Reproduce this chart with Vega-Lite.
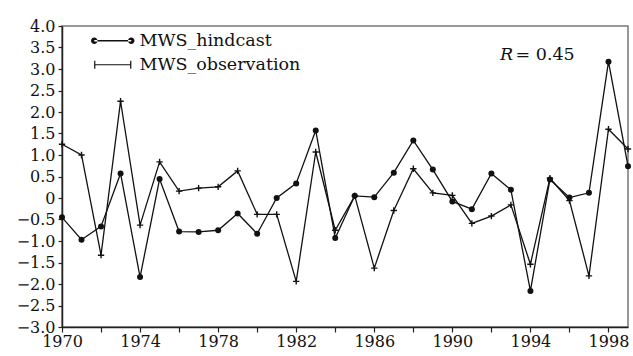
{
  "$schema": "https://vega.github.io/schema/vega-lite/v6.json",
  "width": 566,
  "height": 301,
  "autosize": {"type": "none"},
  "padding": {"left": 62, "top": 26, "right": 5, "bottom": 29},
  "background": "white",
  "config": {
    "view": {"stroke": "#777", "strokeWidth": 1.5},
    "font": "DejaVu Serif",
    "axis": {"grid": false, "title": null, "domainColor": "#222", "domainWidth": 1.5, "tickColor": "#222", "tickWidth": 1.2, "labelColor": "#111", "labelFont": "DejaVu Serif", "labelFontSize": 16}
  },
  "datasets": {
    "mws": [
      {"year": 1970, "series": "MWS_hindcast", "value": -0.45},
      {"year": 1971, "series": "MWS_hindcast", "value": -0.97},
      {"year": 1972, "series": "MWS_hindcast", "value": -0.66},
      {"year": 1973, "series": "MWS_hindcast", "value": 0.57},
      {"year": 1974, "series": "MWS_hindcast", "value": -1.84},
      {"year": 1975, "series": "MWS_hindcast", "value": 0.44},
      {"year": 1976, "series": "MWS_hindcast", "value": -0.78},
      {"year": 1977, "series": "MWS_hindcast", "value": -0.79},
      {"year": 1978, "series": "MWS_hindcast", "value": -0.75},
      {"year": 1979, "series": "MWS_hindcast", "value": -0.36},
      {"year": 1980, "series": "MWS_hindcast", "value": -0.83},
      {"year": 1981, "series": "MWS_hindcast", "value": 0.0},
      {"year": 1982, "series": "MWS_hindcast", "value": 0.34},
      {"year": 1983, "series": "MWS_hindcast", "value": 1.57},
      {"year": 1984, "series": "MWS_hindcast", "value": -0.93},
      {"year": 1985, "series": "MWS_hindcast", "value": 0.05},
      {"year": 1986, "series": "MWS_hindcast", "value": 0.02},
      {"year": 1987, "series": "MWS_hindcast", "value": 0.59},
      {"year": 1988, "series": "MWS_hindcast", "value": 1.34},
      {"year": 1989, "series": "MWS_hindcast", "value": 0.66},
      {"year": 1990, "series": "MWS_hindcast", "value": -0.08},
      {"year": 1991, "series": "MWS_hindcast", "value": -0.26},
      {"year": 1992, "series": "MWS_hindcast", "value": 0.57},
      {"year": 1993, "series": "MWS_hindcast", "value": 0.19},
      {"year": 1994, "series": "MWS_hindcast", "value": -2.16},
      {"year": 1995, "series": "MWS_hindcast", "value": 0.43},
      {"year": 1996, "series": "MWS_hindcast", "value": 0.01},
      {"year": 1997, "series": "MWS_hindcast", "value": 0.12},
      {"year": 1998, "series": "MWS_hindcast", "value": 3.17},
      {"year": 1999, "series": "MWS_hindcast", "value": 0.74},
      {"year": 1970, "series": "MWS_observation", "value": 1.25},
      {"year": 1971, "series": "MWS_observation", "value": 1.0},
      {"year": 1972, "series": "MWS_observation", "value": -1.33},
      {"year": 1973, "series": "MWS_observation", "value": 2.25},
      {"year": 1974, "series": "MWS_observation", "value": -0.63},
      {"year": 1975, "series": "MWS_observation", "value": 0.84},
      {"year": 1976, "series": "MWS_observation", "value": 0.16},
      {"year": 1977, "series": "MWS_observation", "value": 0.23},
      {"year": 1978, "series": "MWS_observation", "value": 0.26},
      {"year": 1979, "series": "MWS_observation", "value": 0.63},
      {"year": 1980, "series": "MWS_observation", "value": -0.38},
      {"year": 1981, "series": "MWS_observation", "value": -0.38},
      {"year": 1982, "series": "MWS_observation", "value": -1.94},
      {"year": 1983, "series": "MWS_observation", "value": 1.07},
      {"year": 1984, "series": "MWS_observation", "value": -0.75},
      {"year": 1985, "series": "MWS_observation", "value": 0.05},
      {"year": 1986, "series": "MWS_observation", "value": -1.63},
      {"year": 1987, "series": "MWS_observation", "value": -0.29},
      {"year": 1988, "series": "MWS_observation", "value": 0.68},
      {"year": 1989, "series": "MWS_observation", "value": 0.12},
      {"year": 1990, "series": "MWS_observation", "value": 0.06},
      {"year": 1991, "series": "MWS_observation", "value": -0.59},
      {"year": 1992, "series": "MWS_observation", "value": -0.42},
      {"year": 1993, "series": "MWS_observation", "value": -0.16},
      {"year": 1994, "series": "MWS_observation", "value": -1.54},
      {"year": 1995, "series": "MWS_observation", "value": 0.46},
      {"year": 1996, "series": "MWS_observation", "value": -0.06},
      {"year": 1997, "series": "MWS_observation", "value": -1.81},
      {"year": 1998, "series": "MWS_observation", "value": 1.6},
      {"year": 1999, "series": "MWS_observation", "value": 1.14}
    ],
    "note": [{"label": "R = 0.45"}]
  },
  "layer": [
    {
      "data": {"name": "mws"},
      "encoding": {
        "x": {
          "field": "year", "type": "quantitative",
          "scale": {"domain": [1970, 1999], "nice": false, "zero": false},
          "axis": {
            "values": [1970, 1972, 1974, 1976, 1978, 1980, 1982, 1984, 1986, 1988, 1990, 1992, 1994, 1996, 1998],
            "labelExpr": "(datum.value - 1970) % 4 == 0 ? format(datum.value, 'd') : ''",
            "tickSize": 5, "labelPadding": 1, "labelFlush": false, "labelOverlap": false
          }
        },
        "y": {
          "field": "value", "type": "quantitative",
          "scale": {"domain": [-3, 4], "nice": false, "zero": false},
          "axis": {
            "values": [-3, -2.5, -2, -1.5, -1, -0.5, 0, 0.5, 1, 1.5, 2, 2.5, 3, 3.5, 4],
            "labelExpr": "datum.value == 0 ? '0' : format(datum.value, '.1f')",
            "tickSize": 4, "labelPadding": 3, "labelFlush": false, "labelOverlap": false
          }
        }
      },
      "layer": [
        {
          "mark": {"type": "line", "color": "#111", "strokeWidth": 1.3},
          "encoding": {"detail": {"field": "series", "type": "nominal"}}
        },
        {
          "transform": [{"filter": "datum.series == 'MWS_hindcast'"}],
          "mark": {"type": "point", "shape": "circle", "filled": true, "color": "#111", "size": 36, "opacity": 1}
        },
        {
          "transform": [{"filter": "datum.series == 'MWS_observation'"}],
          "mark": {"type": "point", "shape": "M-1,0L1,0M0,-1L0,1", "filled": false, "color": "#111", "strokeWidth": 1.4, "size": 40, "opacity": 1}
        },
        {
          "transform": [{"filter": "datum.year > 3000"}],
          "mark": {"type": "point", "filled": true, "color": "#111", "size": 100, "opacity": 1},
          "encoding": {
            "shape": {
              "field": "series", "type": "nominal",
              "scale": {"domain": ["MWS_hindcast", "MWS_observation"], "range": ["M-3.7,-0.13L3.7,-0.13L3.7,0.13L-3.7,0.13ZM-4.35,0a0.65,0.65 0 1,0 1.3,0a0.65,0.65 0 1,0 -1.3,0ZM3.05,0a0.65,0.65 0 1,0 1.3,0a0.65,0.65 0 1,0 -1.3,0Z", "M-3.7,-0.12L3.7,-0.12L3.7,0.12L-3.7,0.12ZM-3.72,-0.8L-3.48,-0.8L-3.48,0.8L-3.72,0.8ZM3.48,-0.8L3.72,-0.8L3.72,0.8L3.48,0.8Z"]},
              "legend": {
                "title": null, "orient": "none", "legendX": 42, "legendY": 6, "padding": 0,
                "labelFont": "DejaVu Serif", "labelFontSize": 17.5, "labelColor": "#111", "labelLimit": 400,
                "labelOffset": 18, "rowPadding": 5, "symbolSize": 100,
                "symbolFillColor": "#111", "symbolOpacity": 1
              }
            }
          }
        }
      ]
    },
    {
      "data": {"name": "note"},
      "encoding": {
        "x": {
          "datum": 1992.44, "type": "quantitative",
          "axis": {
            "values": [1970, 1972, 1974, 1976, 1978, 1980, 1982, 1984, 1986, 1988, 1990, 1992, 1994, 1996, 1998],
            "labelExpr": "(datum.value - 1970) % 4 == 0 ? format(datum.value, 'd') : ''",
            "tickSize": 5, "labelPadding": 1, "labelFlush": false, "labelOverlap": false
          }
        },
        "y": {
          "datum": 3.33, "type": "quantitative",
          "axis": {
            "values": [-3, -2.5, -2, -1.5, -1, -0.5, 0, 0.5, 1, 1.5, 2, 2.5, 3, 3.5, 4],
            "labelExpr": "datum.value == 0 ? '0' : format(datum.value, '.1f')",
            "tickSize": 4, "labelPadding": 3, "labelFlush": false, "labelOverlap": false
          }
        }
      },
      "layer": [
        {
          "mark": {"type": "text", "fontSize": 17.5, "fontStyle": "italic", "align": "left", "baseline": "middle", "fill": "#111", "font": "DejaVu Serif"},
          "encoding": {"text": {"value": "R"}}
        },
        {
          "mark": {"type": "text", "fontSize": 17.5, "align": "left", "baseline": "middle", "fill": "#111", "font": "DejaVu Serif", "dx": 15.6},
          "encoding": {"text": {"value": "= 0.45"}}
        }
      ]
    }
  ]
}
